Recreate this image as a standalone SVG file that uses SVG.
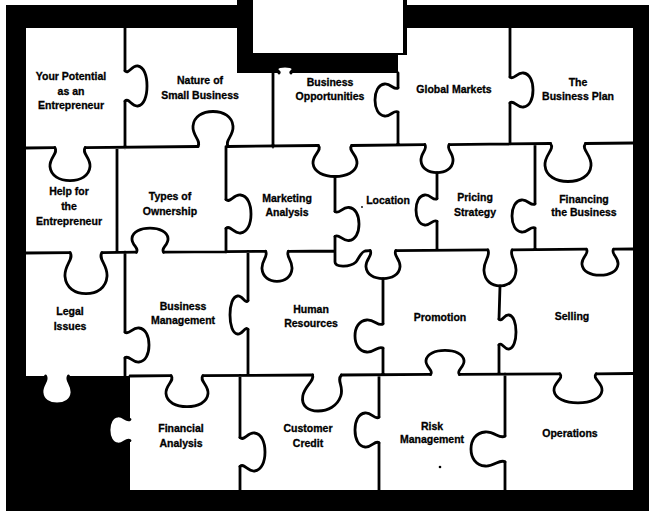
<svg xmlns="http://www.w3.org/2000/svg" width="649" height="512" viewBox="0 0 649 512">
<style>
.ln{fill:none;stroke:#000;stroke-width:2.8;stroke-linecap:round;stroke-linejoin:round}
.t{font-family:"Liberation Sans",Arial,Helvetica,sans-serif;font-weight:700;font-size:10.5px;text-anchor:middle;fill:#000;stroke:#000;stroke-width:0.3}
</style>
<defs>
<path id="k" fill="none" stroke="#000" stroke-width="2.8" stroke-linecap="round" vector-effect="non-scaling-stroke" d="M-0.38,0 C-0.28,0.16 -0.52,0.3 -0.5,0.58 C-0.48,0.86 -0.26,1 0,1 C0.26,1 0.48,0.86 0.5,0.58 C0.52,0.3 0.28,0.16 0.38,0"/>
<path id="kf" fill="#fff" stroke="none" d="M-0.42,-0.15 L-0.38,0 C-0.28,0.16 -0.52,0.3 -0.5,0.58 C-0.48,0.86 -0.26,1 0,1 C0.26,1 0.48,0.86 0.5,0.58 C0.52,0.3 0.28,0.16 0.38,0 L0.42,-0.15 Z"/>
</defs>
<g id="frame">
<rect width="649" height="512" fill="#fff"/>
<rect x="6" y="5" width="643" height="506" fill="#000"/>
<rect x="237" y="0" width="170" height="6" fill="#000"/>
<rect x="253" y="0" width="150" height="53" fill="#fff"/>
<path fill="#fff" d="M26,28 H237 V73 H398 V55 H407 V28 H633 V490 H130 V376 H26 Z"/>
<use href="#kf" transform="translate(57,376) scale(30,28)"/>
<use href="#k" transform="translate(57,376) scale(30,28)"/>
<use href="#kf" transform="translate(130,430) rotate(90) scale(28,21)"/>
<use href="#k" transform="translate(130,430) rotate(90) scale(28,21)"/>
<use href="#kf" transform="translate(285,73) rotate(180) scale(16,7)"/>
<use href="#k" transform="translate(285,73) rotate(180) scale(16,7)"/>
</g>
<g id="cuts">
<path class="ln" d="M26,148 L54.8,147.6 M85.2,147.6 L198.2,146.5 M227.8,146.5 L318.3,145.5 M351.7,145.5 L424.8,144.6 M449.2,144.6 L550.5,143.5 M585.5,143.5 L633,143
M26,253 L70,252.6 M102,252.6 L136.3,252.2 M163.7,252.2 L265.6,251.3 M288.4,251.3 L335,251
M395.9,250.6 L487.8,249.9 M512.2,249.9 L586.3,249.2 M613.7,249.2 L633,249
M130,376 L171,375.7 M203,375.7 L312.6,375 M341.4,375 L430.6,374.4 M459.4,374.4 L559.8,373.8 M596.2,373.8 L633,373.5
M125,28 V70.8 M125,101.2 V147.9
M273,73 V147
M398,73 V87.8 M398,112.2 V145
M510,28 V77.1 M510,102.9 V144
M117,147.7 V252.7
M226,146.6 V199.6 M226,228.4 V252
M335,176.5 V211.5 M335,236.5 V262 C335,267 349,268 356,262 C359,258 361,252 365,251 L370.1,250.6
M437,172.6 V198.6 M437,221.4 V250.3
M535,143.8 V203.8 M535,228.2 V249.6
M125,252.2 V332.1 M125,357.9 V376
M248,251.5 V300.6 M248,329.4 V375.6
M383,278.6 V323.8 M383,348.2 V375.1
M500,285.9 L499,319.1 M499,344.9 V374.3
M240,375.4 V437.6 M240,466.4 V490
M379,375 V417.1 M379,442.9 V490
M505,374.2 V436.1 M505,461.9 V490"/>
<use href="#k" transform="translate(70,147.6) scale(40,33)"/>
<use href="#k" transform="translate(213,146.5) rotate(180) scale(40,35)"/>
<use href="#k" transform="translate(335,145.5) scale(44,31)"/>
<use href="#k" transform="translate(437,144.6) scale(32,28)"/>
<use href="#k" transform="translate(568,143.5) scale(46,38)"/>
<use href="#k" transform="translate(86,252.6) scale(42,41)"/>
<use href="#k" transform="translate(150,252.2) rotate(180) scale(36,24)"/>
<use href="#k" transform="translate(277,251.3) scale(30,30)"/>
<use href="#k" transform="translate(383,250.6) scale(34,28)"/>
<use href="#k" transform="translate(500,249.9) scale(32,36)"/>
<use href="#k" transform="translate(600,249.2) scale(36,26)"/>
<use href="#k" transform="translate(187,375.7) scale(42,31)"/>
<use href="#k" transform="translate(327,375) skewX(-14) scale(38,36)"/>
<use href="#k" transform="translate(445,374.4) rotate(180) scale(38,24)"/>
<use href="#k" transform="translate(578,373.8) scale(48,29)"/>
<use href="#k" transform="translate(125,86) rotate(-90) scale(40,22)"/>
<use href="#k" transform="translate(510,90) rotate(-90) scale(34,23)"/>
<use href="#k" transform="translate(226,214) rotate(-90) scale(38,25)"/>
<use href="#k" transform="translate(335,224) rotate(-90) scale(33,24)"/>
<use href="#k" transform="translate(125,345) rotate(-90) scale(34,24)"/>
<use href="#k" transform="translate(499,332) rotate(-90) scale(34,17)"/>
<use href="#k" transform="translate(240,452) rotate(-90) scale(38,25)"/>
<use href="#k" transform="translate(398,100) rotate(90) scale(32,23)"/>
<use href="#k" transform="translate(437,210) rotate(90) scale(30,21)"/>
<use href="#k" transform="translate(535,216) rotate(90) scale(32,23)"/>
<use href="#k" transform="translate(248,315) rotate(90) scale(38,18)"/>
<use href="#k" transform="translate(383,336) rotate(90) scale(32,28)"/>
<use href="#k" transform="translate(379,430) rotate(90) scale(34,24)"/>
<use href="#k" transform="translate(505,449) rotate(90) scale(34,34)"/>
<circle cx="362" cy="207" r="0.9" fill="#000"/>
<circle cx="440" cy="467" r="1.3" fill="#000"/>
</g>
<g id="your-potential"><text class="t"><tspan x="71" y="80">Your Potential</tspan><tspan x="71" y="95">as an</tspan><tspan x="71" y="109">Entrepreneur</tspan></text></g>
<g id="nature"><text class="t"><tspan x="200" y="84">Nature of</tspan><tspan x="200" y="99">Small Business</tspan></text></g>
<g id="opportunities"><text class="t"><tspan x="330" y="86">Business</tspan><tspan x="330" y="100">Opportunities</tspan></text></g>
<g id="global"><text class="t" x="454" y="93">Global Markets</text></g>
<g id="plan"><text class="t"><tspan x="578" y="86">The</tspan><tspan x="578" y="100">Business Plan</tspan></text></g>
<g id="help"><text class="t"><tspan x="69" y="195">Help for</tspan><tspan x="69" y="210">the</tspan><tspan x="69" y="225">Entrepreneur</tspan></text></g>
<g id="types"><text class="t"><tspan x="170" y="200">Types of</tspan><tspan x="170" y="215">Ownership</tspan></text></g>
<g id="marketing"><text class="t"><tspan x="287" y="202">Marketing</tspan><tspan x="287" y="216">Analysis</tspan></text></g>
<g id="location"><text class="t" x="388" y="204">Location</text></g>
<g id="pricing"><text class="t"><tspan x="475" y="201">Pricing</tspan><tspan x="475" y="216">Strategy</tspan></text></g>
<g id="financing"><text class="t"><tspan x="584" y="203">Financing</tspan><tspan x="584" y="216">the Business</tspan></text></g>
<g id="legal"><text class="t"><tspan x="70" y="315">Legal</tspan><tspan x="70" y="330">Issues</tspan></text></g>
<g id="business-management"><text class="t"><tspan x="183" y="310">Business</tspan><tspan x="183" y="324">Management</tspan></text></g>
<g id="human-resources"><text class="t"><tspan x="311" y="313">Human</tspan><tspan x="311" y="327">Resources</tspan></text></g>
<g id="promotion"><text class="t" x="440" y="321">Promotion</text></g>
<g id="selling"><text class="t" x="572" y="320">Selling</text></g>
<g id="financial-analysis"><text class="t"><tspan x="181" y="432">Financial</tspan><tspan x="181" y="447">Analysis</tspan></text></g>
<g id="customer-credit"><text class="t"><tspan x="308" y="432">Customer</tspan><tspan x="308" y="447">Credit</tspan></text></g>
<g id="risk"><text class="t"><tspan x="432" y="430">Risk</tspan><tspan x="432" y="443">Management</tspan></text></g>
<g id="operations"><text class="t" x="570" y="437">Operations</text></g>
</svg>
